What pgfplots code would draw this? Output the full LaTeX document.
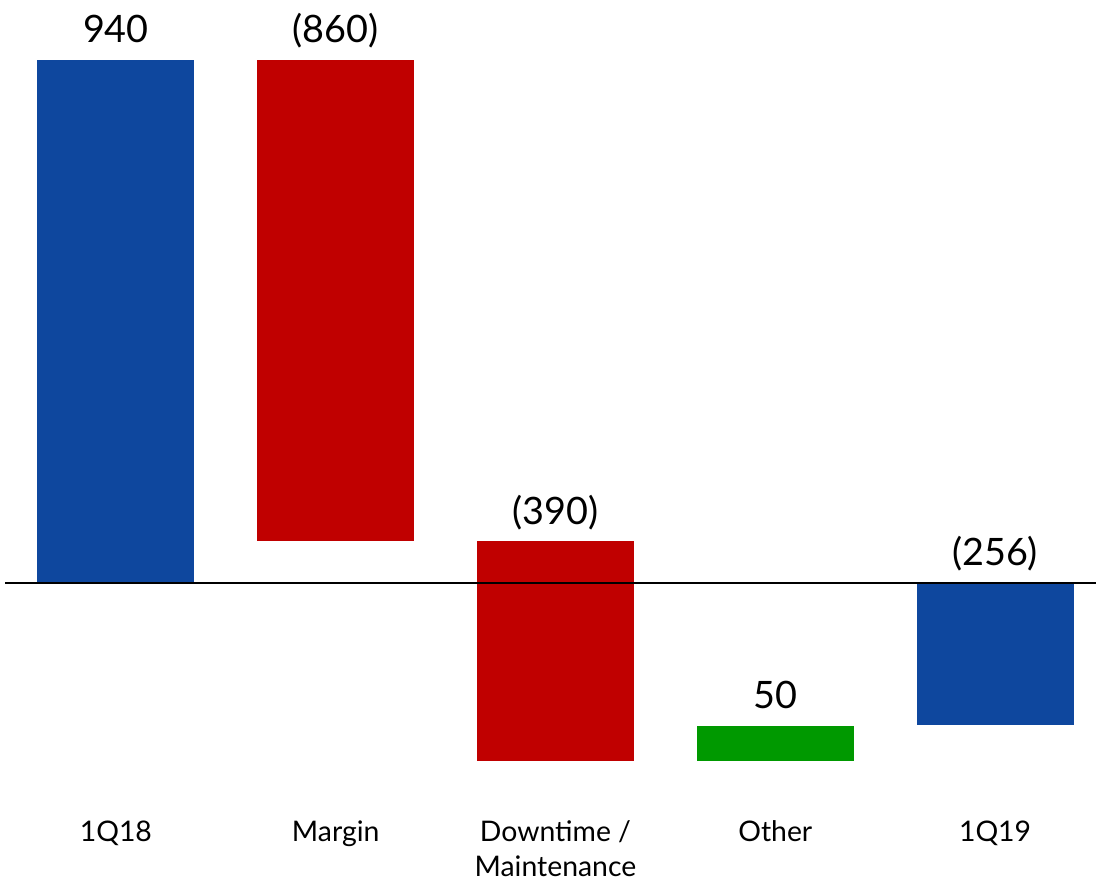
\documentclass[border=0pt]{standalone}
\usepackage{pgfplots}
\pgfplotsset{compat=1.18}
\usepackage{pgfplotstable}
\usepackage{fontspec}
\setmainfont{Lato}

\definecolor{barblue}{RGB}{14,71,158}
\definecolor{barred}{RGB}{192,0,0}
\definecolor{bargreen}{RGB}{0,153,0}

\pgfplotstableread{
x  top   label
0  940   940
1  940   (860)
2  74    (390)
3  -257  50
4  0     (256)
}\labels

\begin{document}
\begin{tikzpicture}
\begin{axis}[
    scale only axis,
    width=548.5pt, height=441.5pt,
    xmin=-0.5273, xmax=4.4591,
    ymin=-538.6, ymax=1046.7,
    axis line style={draw=none},
    major tick length=0pt,
    ytick=\empty,
    xtick={0,1,2,3,4},
    xticklabels={1Q18,Margin,Downtime /\\Maintenance,Other,1Q19},
    xticklabel style={anchor=north, inner sep=0pt, yshift=31pt, align=center,
        font=\fontsize{14.2}{17.5}\selectfont},
    clip=false,
]
% waterfall steps, bar half width 0.3568
\addplot[draw=none, fill=barblue]  coordinates {(-0.3568,0) (0.3568,0) (0.3568,940) (-0.3568,940)} -- cycle;
\addplot[draw=none, fill=barred]   coordinates {(0.6432,74) (1.3568,74) (1.3568,940) (0.6432,940)} -- cycle;
\addplot[draw=none, fill=barred]   coordinates {(1.6432,-321) (2.3568,-321) (2.3568,74) (1.6432,74)} -- cycle;
\addplot[draw=none, fill=bargreen] coordinates {(2.6432,-321) (3.3568,-321) (3.3568,-257) (2.6432,-257)} -- cycle;
\addplot[draw=none, fill=barblue]  coordinates {(3.6432,-256) (4.3568,-256) (4.3568,0) (3.6432,0)} -- cycle;

\addplot[black, line width=1pt, mark=none]
    coordinates {(-0.5045,0) (4.4591,0)};

\addplot[draw=none, mark=none,
    nodes near coords, point meta=explicit symbolic,
    every node near coord/.append style={anchor=base, inner sep=0pt, yshift=8.5pt,
        font=\fontsize{18.9}{22}\selectfont, text=black}]
    table[x=x, y=top, meta=label] {\labels};
\end{axis}
\end{tikzpicture}
\end{document}
